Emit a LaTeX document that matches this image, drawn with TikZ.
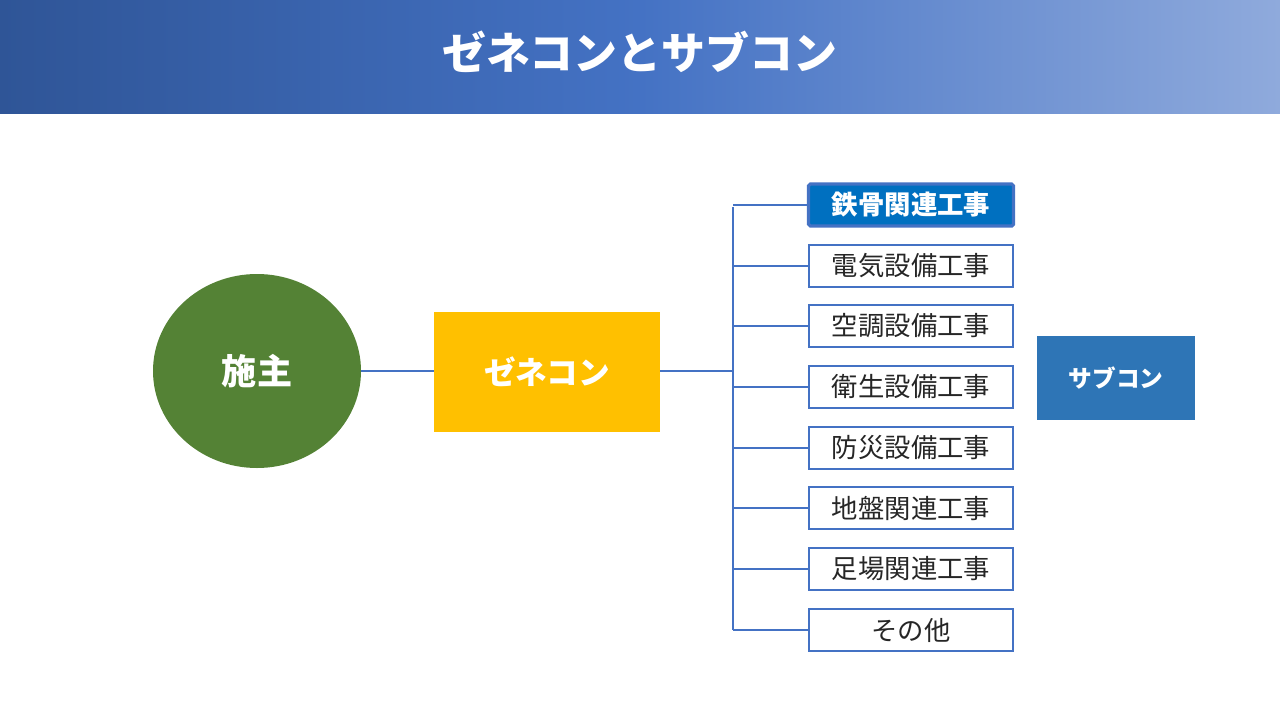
\documentclass[tikz,border=0pt]{standalone}
\usepackage{fontspec}
\newfontfamily\jp{Noto Sans CJK JP}
\usetikzlibrary{shapes.geometric}
\definecolor{hdA}{HTML}{2F5597}
\definecolor{hdB}{HTML}{4472C4}
\definecolor{hdC}{HTML}{8FAADC}
\definecolor{lineb}{HTML}{4472C4}
\definecolor{grn}{HTML}{548235}
\definecolor{yel}{HTML}{FFC000}
\definecolor{blu}{HTML}{2E75B6}
\definecolor{dblu}{HTML}{0070C0}
\begin{document}
\begin{tikzpicture}[x=0.02cm,y=-0.02cm,
 sub/.style={draw=lineb,line width=0.6pt,fill=white,minimum width=204*0.02cm,minimum height=42*0.02cm,inner sep=0pt,font=\jp\fontsize{15}{18}\selectfont,text=black!85},
 conn/.style={draw=lineb,line width=0.6pt}]
\useasboundingbox (0,0) rectangle (1280,720);
\shade[left color=hdA,right color=hdC,middle color=hdB] (0,0) rectangle (1280,113);
\node[text=white,font=\jp\bfseries\fontsize{25}{30}\selectfont] (title) at (640,52) {ゼネコンとサブコン};
\node[ellipse,fill=grn,minimum width=208*0.02cm,minimum height=194*0.02cm,inner sep=0pt,text=white,font=\jp\bfseries\fontsize{20}{24}\selectfont] (owner) at (257,371) {施主};
\node[fill=yel,minimum width=226*0.02cm,minimum height=120*0.02cm,inner sep=0pt,text=white,font=\jp\bfseries\fontsize{18}{22}\selectfont] (gc) at (547,372) {ゼネコン};
\node[fill=blu,minimum width=158*0.02cm,minimum height=84*0.02cm,inner sep=0pt,text=white,font=\jp\bfseries\fontsize{13.5}{16}\selectfont] (sc) at (1116,378) {サブコン};
\node[draw=lineb,line width=1.8pt,fill=dblu,rounded corners=1pt,minimum width=205*0.02cm,minimum height=42*0.02cm,inner sep=0pt,text=white,font=\jp\bfseries\fontsize{15}{18}\selectfont] (s1) at (911,205) {鉄骨関連工事};
\node[sub] (s2) at (911,266) {電気設備工事};
\node[sub] (s3) at (911,326) {空調設備工事};
\node[sub] (s4) at (911,387) {衛生設備工事};
\node[sub] (s5) at (911,448) {防災設備工事};
\node[sub] (s6) at (911,508) {地盤関連工事};
\node[sub] (s7) at (911,569) {足場関連工事};
\node[sub] (s8) at (911,630) {その他};
\coordinate (top) at (733,207);
\coordinate (bot) at (733,630);
\coordinate (mid) at (733,371);
\draw[conn] (owner.east) -- (gc.west |- owner.east);
\draw[conn] (gc.east |- mid) -- (mid);
\draw[conn] (top) -- (bot);
\foreach \s in {s1,s2,s3,s4,s5,s6,s7,s8}{\draw[conn] (\s.west) -- (top |- \s.west);}
\end{tikzpicture}
\end{document}
